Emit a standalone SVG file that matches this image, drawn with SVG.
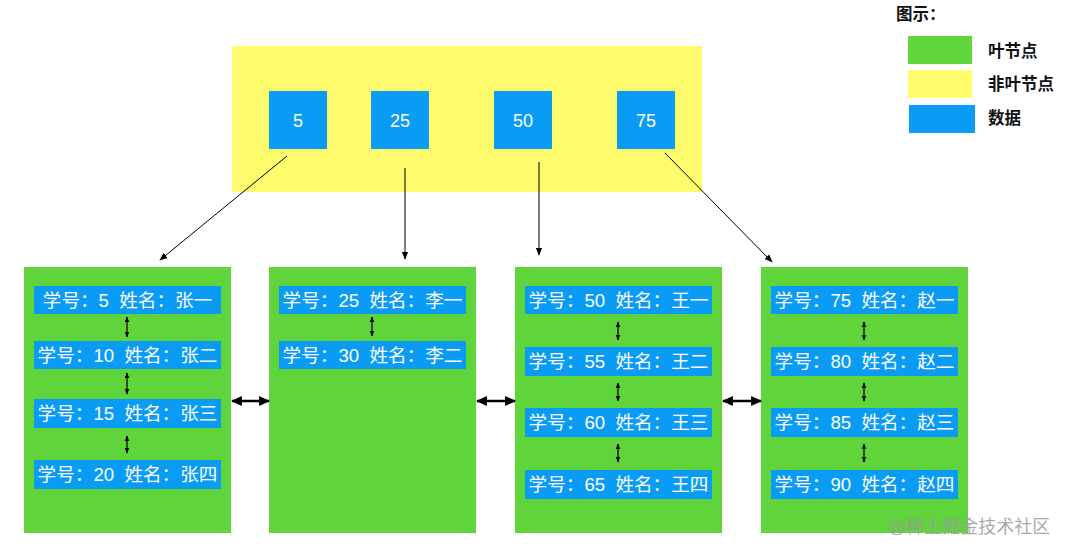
<svg xmlns="http://www.w3.org/2000/svg" width="1066" height="554" viewBox="0 0 1066 554">
<defs>
<marker id="ah" viewBox="0 0 10 10" refX="9" refY="5" markerWidth="8" markerHeight="8" markerUnits="userSpaceOnUse" orient="auto"><path d="M0,1 L10,5 L0,9 z" fill="#000"/></marker>
<marker id="sm" viewBox="0 0 10 10" refX="9" refY="5" markerWidth="6" markerHeight="6" markerUnits="userSpaceOnUse" orient="auto-start-reverse"><path d="M0,1 L10,5 L0,9 z" fill="#000"/></marker>
<marker id="big" viewBox="0 0 10 10" refX="9" refY="5" markerWidth="11" markerHeight="11" markerUnits="userSpaceOnUse" orient="auto-start-reverse"><path d="M0,0.5 L10,5 L0,9.5 z" fill="#000"/></marker>
<style>
.leaf{fill:#5fd43b}
.nonleaf{fill:#fefb6c}
.data{fill:#0a9cf5}
.t{font-family:"Liberation Sans","Noto Sans CJK SC",sans-serif;fill:#fff;font-size:18.6px;white-space:pre}
.n{font-family:"Liberation Sans",sans-serif;fill:#fff;font-size:18px}
.lg{font-family:"Liberation Sans","Noto Sans CJK SC",sans-serif;fill:#111;font-size:16.5px;font-weight:bold}
.c{stroke:#000;stroke-width:1;fill:none}
.v{stroke:#000;stroke-width:1.2;fill:none}
.h{stroke:#000;stroke-width:2.6;fill:none}
</style>
</defs>
<rect width="1066" height="554" fill="#fff"/>

<g id="root">
<rect class="nonleaf" x="232" y="46" width="470" height="146"/>
<g id="k5"><rect class="data" x="269" y="91" width="58" height="58"/><text class="n" x="298" y="127" text-anchor="middle">5</text></g>
<g id="k25"><rect class="data" x="371" y="91" width="58" height="58"/><text class="n" x="400" y="127" text-anchor="middle">25</text></g>
<g id="k50"><rect class="data" x="494" y="91" width="58" height="58"/><text class="n" x="523" y="127" text-anchor="middle">50</text></g>
<g id="k75"><rect class="data" x="617" y="91" width="58" height="58"/><text class="n" x="646" y="127" text-anchor="middle">75</text></g>
</g>

<g id="leaf1">
<rect class="leaf" x="24" y="267" width="207" height="266"/>
<rect class="data" x="34" y="286" width="187" height="28"/><text class="t" x="127.5" y="306.5" text-anchor="middle" xml:space="preserve">学号：5  姓名：张一</text>
<rect class="data" x="34" y="341" width="187" height="28"/><text class="t" x="127.5" y="361.5" text-anchor="middle" xml:space="preserve">学号：10  姓名：张二</text>
<rect class="data" x="34" y="399" width="187" height="29"/><text class="t" x="127.5" y="420" text-anchor="middle" xml:space="preserve">学号：15  姓名：张三</text>
<rect class="data" x="34" y="460" width="187" height="29"/><text class="t" x="127.5" y="481" text-anchor="middle" xml:space="preserve">学号：20  姓名：张四</text>
</g>

<g id="leaf2">
<rect class="leaf" x="269" y="267" width="207" height="266"/>
<rect class="data" x="279" y="286" width="187" height="28"/><text class="t" x="372.5" y="306.5" text-anchor="middle" xml:space="preserve">学号：25  姓名：李一</text>
<rect class="data" x="279" y="341" width="187" height="28"/><text class="t" x="372.5" y="361.5" text-anchor="middle" xml:space="preserve">学号：30  姓名：李二</text>
</g>

<g id="leaf3">
<rect class="leaf" x="515" y="267" width="207" height="266"/>
<rect class="data" x="525" y="286" width="187" height="28"/><text class="t" x="618.5" y="306.5" text-anchor="middle" xml:space="preserve">学号：50  姓名：王一</text>
<rect class="data" x="525" y="347" width="187" height="29"/><text class="t" x="618.5" y="368" text-anchor="middle" xml:space="preserve">学号：55  姓名：王二</text>
<rect class="data" x="525" y="408" width="187" height="29"/><text class="t" x="618.5" y="429" text-anchor="middle" xml:space="preserve">学号：60  姓名：王三</text>
<rect class="data" x="525" y="470" width="187" height="29"/><text class="t" x="618.5" y="491" text-anchor="middle" xml:space="preserve">学号：65  姓名：王四</text>
</g>

<g id="leaf4">
<rect class="leaf" x="761" y="267" width="207" height="266"/>
<rect class="data" x="771" y="286" width="187" height="28"/><text class="t" x="864.5" y="306.5" text-anchor="middle" xml:space="preserve">学号：75  姓名：赵一</text>
<rect class="data" x="771" y="347" width="187" height="29"/><text class="t" x="864.5" y="368" text-anchor="middle" xml:space="preserve">学号：80  姓名：赵二</text>
<rect class="data" x="771" y="408" width="187" height="29"/><text class="t" x="864.5" y="429" text-anchor="middle" xml:space="preserve">学号：85  姓名：赵三</text>
<rect class="data" x="771" y="470" width="187" height="29"/><text class="t" x="864.5" y="491" text-anchor="middle" xml:space="preserve">学号：90  姓名：赵四</text>
</g>

<g id="connectors">
<line class="c" x1="287" y1="156" x2="160" y2="260" marker-end="url(#ah)"/>
<line class="c" x1="405" y1="168" x2="405" y2="259" marker-end="url(#ah)"/>
<line class="c" x1="539" y1="162" x2="539" y2="255" marker-end="url(#ah)"/>
<line class="c" x1="665" y1="153" x2="772" y2="262" marker-end="url(#ah)"/>

<line class="v" x1="127" y1="317" x2="127" y2="337" marker-start="url(#sm)" marker-end="url(#sm)"/>
<line class="v" x1="127" y1="373" x2="127" y2="394" marker-start="url(#sm)" marker-end="url(#sm)"/>
<line class="v" x1="127" y1="436" x2="127" y2="453" marker-start="url(#sm)" marker-end="url(#sm)"/>
<line class="v" x1="372" y1="317" x2="372" y2="336" marker-start="url(#sm)" marker-end="url(#sm)"/>
<line class="v" x1="618" y1="322" x2="618" y2="340" marker-start="url(#sm)" marker-end="url(#sm)"/>
<line class="v" x1="618" y1="383" x2="618" y2="401" marker-start="url(#sm)" marker-end="url(#sm)"/>
<line class="v" x1="618" y1="444" x2="618" y2="462" marker-start="url(#sm)" marker-end="url(#sm)"/>
<line class="v" x1="864" y1="322" x2="864" y2="340" marker-start="url(#sm)" marker-end="url(#sm)"/>
<line class="v" x1="864" y1="383" x2="864" y2="401" marker-start="url(#sm)" marker-end="url(#sm)"/>
<line class="v" x1="864" y1="444" x2="864" y2="462" marker-start="url(#sm)" marker-end="url(#sm)"/>

<line class="h" x1="232" y1="401" x2="269" y2="401" marker-start="url(#big)" marker-end="url(#big)"/>
<line class="h" x1="477" y1="401" x2="515" y2="401" marker-start="url(#big)" marker-end="url(#big)"/>
<line class="h" x1="723" y1="401" x2="761" y2="401" marker-start="url(#big)" marker-end="url(#big)"/>
</g>

<g id="legend">
<text class="lg" x="896" y="20">图示：</text>
<rect class="leaf" x="908" y="36" width="64" height="28"/>
<text class="lg" x="988" y="57">叶节点</text>
<rect class="nonleaf" x="908" y="70" width="64" height="28"/>
<text class="lg" x="988" y="90">非叶节点</text>
<rect class="data" x="909" y="105" width="66" height="28"/>
<text class="lg" x="988" y="124">数据</text>
</g>

<text x="888" y="533" font-family="Liberation Sans,'Noto Sans CJK SC',sans-serif" font-size="18" fill="#9a9a9a" fill-opacity="0.85">@稀土掘金技术社区</text>
</svg>
